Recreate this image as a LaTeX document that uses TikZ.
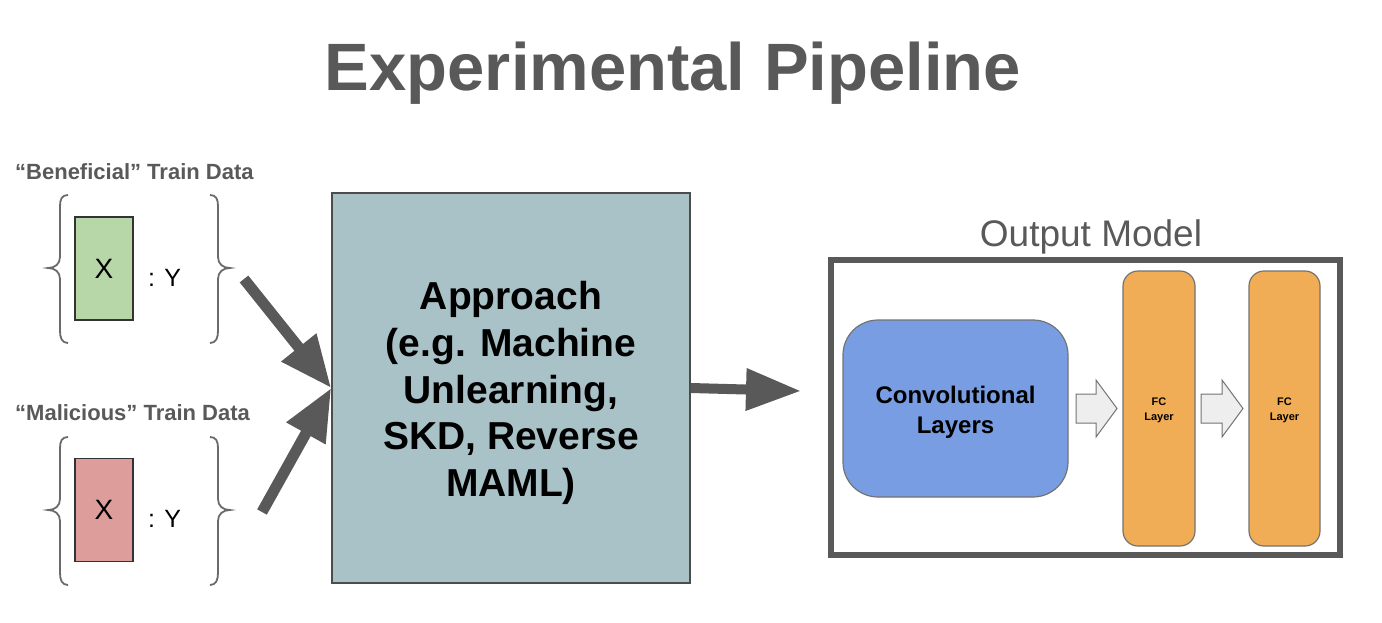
\documentclass[tikz,border=0pt]{standalone}
\usepackage{fontspec}
\setmainfont{Liberation Sans}
\usetikzlibrary{arrows.meta,calc}
\definecolor{tgray}{HTML}{595959}
\definecolor{bgray}{HTML}{6A6A6A}
\definecolor{apfill}{HTML}{A9C2C8}
\definecolor{gfill}{HTML}{B8D7A8}
\definecolor{rfill}{HTML}{DD9E9B}
\definecolor{cfill}{HTML}{789DE2}
\definecolor{ofill}{HTML}{F1AD55}
\definecolor{afill}{HTML}{EEEEEE}
\tikzset{
  bracel/.style={draw=bgray, line width=1.8pt},
  databox/.style={draw=black!80, line width=1.6pt, minimum width=58pt, minimum height=103pt, inner sep=0pt,
    font=\fontsize{28}{30}\selectfont},
  lbl/.style={inner sep=0pt, text=tgray, font=\fontsize{22}{26}\selectfont\bfseries},
  ytxt/.style={inner sep=0pt, font=\fontsize{25}{28}\selectfont},
  bigarrow/.style={draw=tgray, line width=11pt, -{Triangle[length=52pt,width=42pt]}},
  layerbox/.style={draw=black!55, line width=1.2pt, inner sep=0pt, align=center},
  blockarr/.style={draw=black!55, fill=afill, line width=1pt},
}
\begin{document}
\begin{tikzpicture}[x=1pt,y=-1pt]
\useasboundingbox (0,0) rectangle (1382,622);

% Title
\node[anchor=base, inner sep=0pt, text=tgray, font=\fontsize{67}{80}\selectfont\bfseries] (title) at (673,90) {Experimental Pipeline};

% Beneficial data
\node[lbl, anchor=base west] (benlbl) at (15,179) {“Beneficial” Train Data};
\node[databox, fill=gfill] (xb) at (104,268.5) {X};
\node[ytxt, anchor=base west] (yb) at (148,286) {: Y};
\draw[bracel] (68,195) .. controls (62,195) and (60,199) .. (60,206) -- (60,257) .. controls (60,264) and (55,268) .. (48,268) .. controls (55,268) and (60,272) .. (60,279) -- (60,331) .. controls (60,338) and (62,343) .. (68,343);
\draw[bracel] (210,195) .. controls (216,195) and (218,199) .. (218,206) -- (218,257) .. controls (218,264) and (223,268) .. (230,268) .. controls (223,268) and (218,272) .. (218,279) -- (218,331) .. controls (218,338) and (216,343) .. (210,343);

% Malicious data
\node[lbl, anchor=base west] (mallbl) at (15,420) {“Malicious” Train Data};
\node[databox, fill=rfill] (xm) at (104,510) {X};
\node[ytxt, anchor=base west] (ym) at (148,527) {: Y};
\begin{scope}[shift={(0,242)}]
\draw[bracel] (68,195) .. controls (62,195) and (60,199) .. (60,206) -- (60,257) .. controls (60,264) and (55,268) .. (48,268) .. controls (55,268) and (60,272) .. (60,279) -- (60,331) .. controls (60,338) and (62,343) .. (68,343);
\draw[bracel] (210,195) .. controls (216,195) and (218,199) .. (218,206) -- (218,257) .. controls (218,264) and (223,268) .. (230,268) .. controls (223,268) and (218,272) .. (218,279) -- (218,331) .. controls (218,338) and (216,343) .. (210,343);
\end{scope}

% Approach box
\node[draw=black!70, line width=1.6pt, fill=apfill, minimum width=358pt, minimum height=390pt, inner sep=0pt] (appr) at (511,388) {};
\node[align=center, inner sep=0pt, font=\fontsize{39}{46.7}\selectfont\bfseries] (apprtxt) at (511,393)
  {Approach\\(e.g. Machine\\Unlearning,\\SKD, Reverse\\MAML)};

% Arrows into approach
\coordinate (a1) at (244,279);
\coordinate (a2) at (262,512);
\draw[bigarrow] (a1) -- (appr.west);
\draw[bigarrow] (a2) -- (appr.west);

% Output model
\node[anchor=base, inner sep=0pt, text=tgray, font=\fontsize{37}{40}\selectfont] (outlbl) at (1091,246) {Output Model};
\node[draw=tgray, line width=6pt, minimum width=509pt, minimum height=295pt, inner sep=0pt] (out) at (1085.5,407.5) {};
\coordinate (outin) at (801,391);
\draw[draw=tgray, line width=10pt, -{Triangle[length=55pt,width=40pt]}] (appr.east) -- (outin);

\node[layerbox, fill=cfill, rounded corners=35pt, minimum width=225pt, minimum height=177pt] (conv) at (955.5,408.5) {};
\node[align=center, inner sep=0pt, font=\fontsize{24}{30}\selectfont\bfseries] (convtxt) at (955.5,412) {Convolutional\\Layers};
\node[layerbox, fill=ofill, rounded corners=15pt, minimum width=72pt, minimum height=275pt] (fc1) at (1159,408.5) {};
\node[align=center, inner sep=0pt, font=\fontsize{11}{15.5}\selectfont\bfseries] (fc1txt) at (1159,410.5) {FC\\Layer};
\node[layerbox, fill=ofill, rounded corners=15pt, minimum width=71pt, minimum height=275pt] (fc2) at (1284.5,408.5) {};
\node[align=center, inner sep=0pt, font=\fontsize{11}{15.5}\selectfont\bfseries] (fc2txt) at (1284.5,410.5) {FC\\Layer};

\draw[blockarr] (1076,394) -- (1096,394) -- (1096,380) -- (1117,408.5) -- (1096,437) -- (1096,423) -- (1076,423) -- cycle;
\draw[blockarr] (1201,394) -- (1222,394) -- (1222,380) -- (1243,408.5) -- (1222,437) -- (1222,423) -- (1201,423) -- cycle;
\end{tikzpicture}
\end{document}
